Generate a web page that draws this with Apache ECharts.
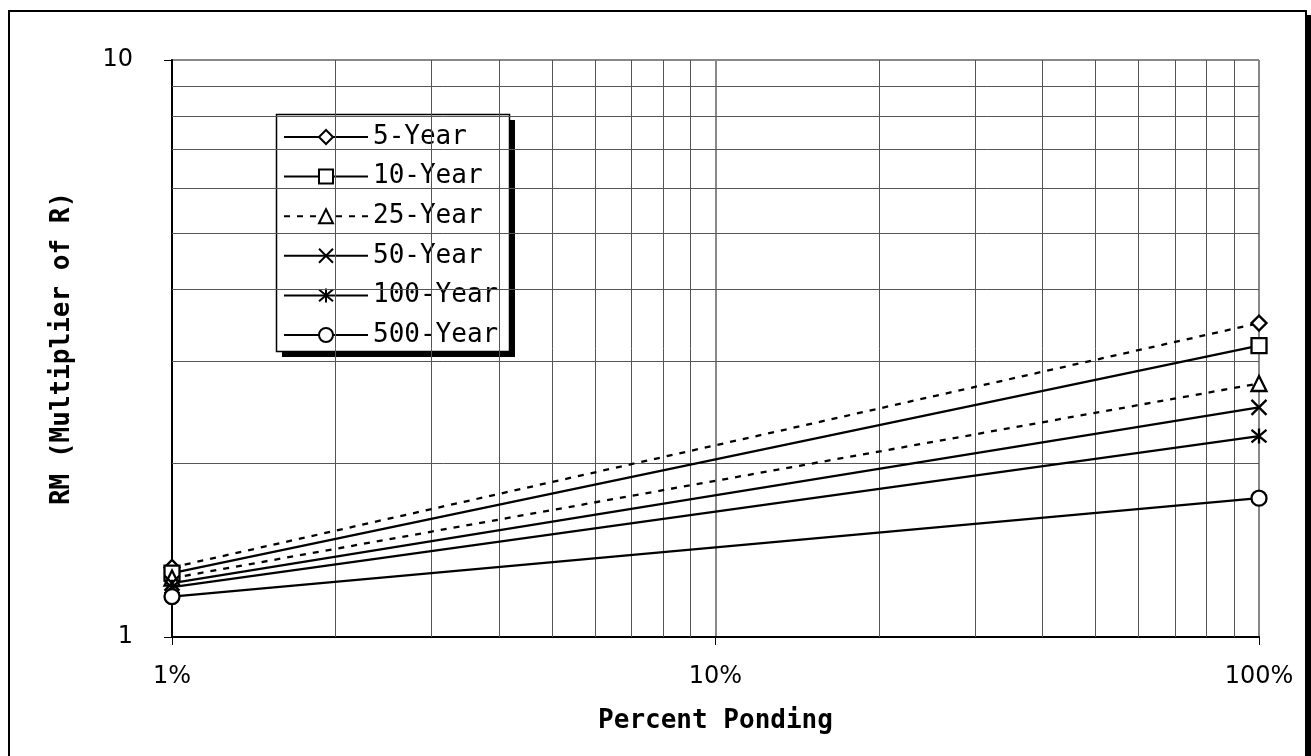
<!DOCTYPE html>
<html>
<head>
<meta charset="utf-8">
<title>RM vs Percent Ponding</title>
<script src="https://cdn.jsdelivr.net/npm/echarts@6/dist/echarts.min.js"></script>
<style>
  html, body { margin: 0; padding: 0; background: #fff; }
  #frame {
    position: absolute; left: 8px; top: 10px; width: 1295px; height: 770px;
    border: 2px solid #000; box-shadow: 5px 5px 0 #000; background: #fff;
  }
  #chart { position: absolute; left: 0; top: 0; width: 1311px; height: 756px; }
</style>
</head>
<body>
<div id="frame"></div>
<div id="chart"></div>
<script>
// Percent ponding (x, %) at the two ends of each curve
const pondingPct = [1, 100];

// RM (multiplier of R) for each return period
const seriesNames = ['5-Year', '10-Year', '25-Year', '50-Year', '100-Year', '500-Year'];
const rm5yr   = [1.32, 3.50];
const rm10yr  = [1.29, 3.20];
const rm25yr  = [1.265, 2.75];
const rm50yr  = [1.24, 2.50];
const rm100yr = [1.22, 2.23];
const rm500yr = [1.175, 1.74];

// Intermediate log-decade gridline values
const yMinorGrid = [2, 3, 4, 5, 6, 7, 8, 9];
const xMinorGrid = [2, 3, 4, 5, 6, 7, 8, 9, 20, 30, 40, 50, 60, 70, 80, 90];

const monoFont = '"DejaVu Sans Mono", "Liberation Mono", monospace';
const sansFont = '"DejaVu Sans", "Noto Sans", sans-serif';

const symbols = {
  diamond: 'diamond',
  square: 'rect',
  triangle: 'triangle',
  cross: 'path://M0,0L10,10M10,0L0,10',
  star: 'path://M0,0L10,10M10,0L0,10M5,-1L5,11',
  circle: 'circle'
};

const seriesDefs = [
  { name: seriesNames[0], values: rm5yr,   symbol: symbols.diamond,  dashed: true },
  { name: seriesNames[1], values: rm10yr,  symbol: symbols.square,   dashed: false },
  { name: seriesNames[2], values: rm25yr,  symbol: symbols.triangle, dashed: true },
  { name: seriesNames[3], values: rm50yr,  symbol: symbols.cross,    dashed: false },
  { name: seriesNames[4], values: rm100yr, symbol: symbols.star,     dashed: false },
  { name: seriesNames[5], values: rm500yr, symbol: symbols.circle,   dashed: false }
];

const gridSeries = {
  type: 'line',
  data: [],
  silent: true,
  markLine: {
    silent: true,
    symbol: 'none',
    animation: false,
    label: { show: false },
    lineStyle: { color: '#555', width: 1, type: 'solid' },
    data: yMinorGrid.map(v => ({ yAxis: v })).concat(xMinorGrid.map(v => ({ xAxis: v })))
  }
};

const dataSeries = seriesDefs.map(d => ({
  name: d.name,
  type: 'line',
  data: pondingPct.map((x, i) => [x, d.values[i]]),
  symbol: d.symbol,
  symbolSize: 15,
  showSymbol: true,
  animation: false,
  lineStyle: { color: '#000', width: 2.3, type: d.dashed ? [6, 7] : 'solid' },
  itemStyle: { color: '#fff', borderColor: '#000', borderWidth: 2.3 },
  emphasis: { disabled: true },
  z: 5
}));

// Legend box with a solid drop shadow, drawn beneath the legend entries
const legendBox = { left: 276, top: 114, width: 233, height: 237, shadow: 6 };

const chart = echarts.init(document.getElementById('chart'), null, { renderer: 'canvas' });
chart.setOption({
  backgroundColor: 'transparent',
  animation: false,
  grid: { left: 172, right: 52, top: 60, bottom: 119, containLabel: false },
  graphic: [
    {
      type: 'rect', z: 3, silent: true,
      shape: { x: legendBox.left + legendBox.shadow, y: legendBox.top + legendBox.shadow,
               width: legendBox.width, height: legendBox.height },
      style: { fill: '#000' }
    },
    {
      type: 'rect', z: 3, silent: true,
      shape: { x: legendBox.left + 0.5, y: legendBox.top + 0.5,
               width: legendBox.width, height: legendBox.height },
      style: { fill: '#fff', stroke: '#000', lineWidth: 1.5 }
    }
  ],
  legend: {
    orient: 'vertical',
    left: legendBox.left,
    top: legendBox.top,
    padding: [8, 11, 2, 7],
    itemWidth: 84,
    itemHeight: 17.5,
    itemGap: 9.6,
    z: 4,
    selectedMode: false,
    textStyle: { fontFamily: monoFont, fontSize: 26, color: '#000', lineHeight: 30 },
    data: seriesNames.map((n, i) => i === 0 ? { name: n, lineStyle: { type: 'solid' } } : { name: n })
  },
  xAxis: {
    type: 'log',
    logBase: 10,
    min: 1,
    max: 100,
    name: 'Percent Ponding',
    nameLocation: 'middle',
    nameGap: 71,
    nameMoveOverlap: false,
    nameTextStyle: { fontFamily: monoFont, fontSize: 26, fontWeight: 'bold', color: '#000' },
    axisLine: { show: true, lineStyle: { color: '#000', width: 2 } },
    axisTick: { show: true, length: 8, lineStyle: { color: '#000', width: 1 } },
    axisLabel: { fontFamily: sansFont, fontSize: 24, color: '#000', margin: 28, formatter: '{value}%' },
    splitLine: { show: true, lineStyle: { color: '#888', width: 2 } }
  },
  yAxis: {
    type: 'log',
    logBase: 10,
    min: 1,
    max: 10,
    name: 'RM (Multiplier of R)',
    nameLocation: 'middle',
    nameGap: 97,
    nameMoveOverlap: false,
    nameTextStyle: { fontFamily: monoFont, fontSize: 26, fontWeight: 'bold', color: '#000' },
    axisLine: { show: true, lineStyle: { color: '#000', width: 2 } },
    axisTick: { show: true, length: 8, lineStyle: { color: '#000', width: 1 } },
    axisLabel: { fontFamily: sansFont, fontSize: 24, color: '#000', margin: 39 },
    splitLine: { show: true, lineStyle: { color: '#888', width: 2 } }
  },
  series: [gridSeries].concat(dataSeries)
});
</script>
</body>
</html>
